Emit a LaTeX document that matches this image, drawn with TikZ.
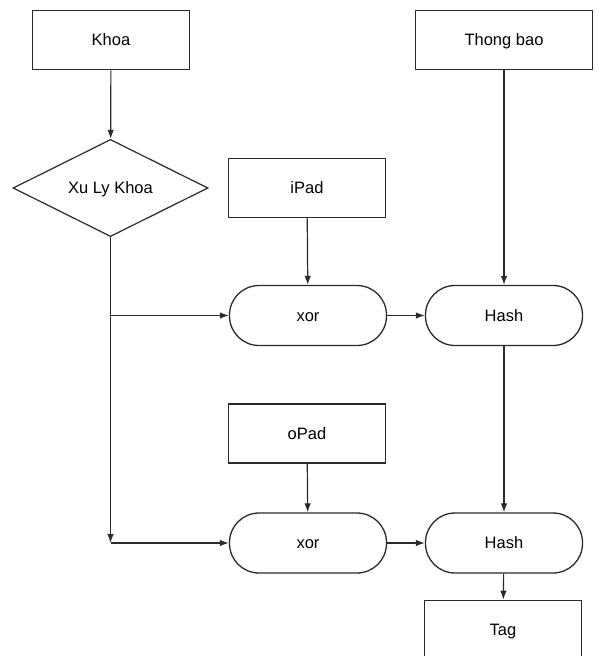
\documentclass[tikz,border=0pt]{standalone}
\usepackage{fontspec}
\setmainfont{Liberation Sans}
\usetikzlibrary{shapes.geometric,arrows.meta}
\definecolor{ink}{HTML}{2A2A2A}
\begin{document}
\begin{tikzpicture}[x=1pt,y=-1pt,
  label text/.style={text=black,font=\fontsize{16.5}{19}\selectfont,
    text height=12pt,text depth=0.5pt},
  box/.style={draw=ink,line width=1.6pt,minimum width=157pt,minimum height=59pt,
    inner sep=0pt,label text},
  pill/.style={box,rounded corners=29.5pt,minimum height=60pt,line width=1.3pt},
  decision/.style={draw=ink,diamond,line width=1.2pt,minimum width=195pt,
    minimum height=58pt,inner sep=0pt,label text},
  link/.style={draw=ink,line width=1.2pt,-{Latex[length=9pt,width=6.5pt]}}
]
\useasboundingbox (0,0) rectangle (599,656);
\clip (0,0) rectangle (599,656);
\fill[white] (0,0) rectangle (599,656);

% blocks
\node[box] (khoa) at (111,40) {Khoa};
\node[box,minimum width=177pt] (thong) at (504,40) {Thong bao};
\node[decision] (xuly) at (110.5,188) {Xu Ly Khoa};
\node[box] (ipad) at (307,188) {iPad};
\node[pill] (xor1) at (308,315.5) {xor};
\node[pill] (hash1) at (504,315.5) {Hash};
\node[box] (opad) at (307,433.5) {oPad};
\node[pill] (xor2) at (308,543) {xor};
\node[pill] (hash2) at (504,543) {Hash};
\node[box] (tag) at (503,630) {Tag};

% branch points on the key line
\coordinate (j1) at (xuly.south |- xor1.west);
\coordinate (j2) at (xuly.south |- xor2.west);

% connectors
\draw[link] (khoa) -- (xuly);
\draw[link] (thong) -- (hash1);
\draw[link] (ipad) -- (xor1);
\draw[link] (xor1) -- (hash1);
\draw[link] (opad) -- (xor2);
\draw[link] (hash1) -- (hash2);
\draw[link] (xor2) -- (hash2);
\draw[link] (hash2) -- (tag);
\draw[link] (xuly.south) -- (j2);
\draw[link] (j1) -- (xor1);
\draw[link] (j2) -- (xor2);
\end{tikzpicture}
\end{document}
